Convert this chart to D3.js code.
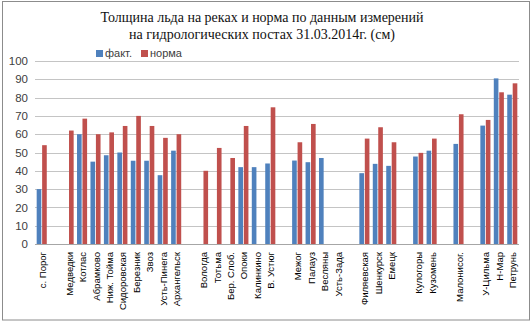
<!DOCTYPE html>
<html>
<head>
<meta charset="utf-8">
<script src="https://cdn.jsdelivr.net/npm/d3@7"></script>
<style>
  html, body { margin: 0; padding: 0; background: #fff; }
  svg { display: block; }
</style>
</head>
<body>
<svg id="chart" width="532" height="322"></svg>
<script>
const titleLines = ["Толщина льда на реках и норма по данным измерений", "на гидрологических постах 31.03.2014г. (см)"];
const categories = ["с. Порог", "", "Медведки", "Котлас", "Абрамково", "Ниж. Тойма", "Сидоровская", "Березник", "Звоз", "Усть-Пинега", "Архангельск", "", "Вологда", "Тотьма", "Бер. Слоб.", "Опоки", "Калинкино", "В. Устюг", "", "Межог", "Палауз", "Весляны", "Усть-Зада", "", "Филяевская", "Шенкурск", "Емецк", "", "Кулогоры", "Кузомень", "", "Малонисог.", "", "У-Цильма", "Н-Мар", "Петрунь"];
const fact = [30, null, null, 60, 45, 48.5, 50, 45.5, 45.5, 37.6, 51, null, null, null, null, 42, 42, 44, null, 45.6, 44.7, 47, null, null, 38.7, 43.8, 42.7, null, 47.8, 51, null, 54.7, null, 64.7, 90.5, 81.6];
const norma = [54, null, 62, 68.5, 60, 61, 64.5, 70, 64.5, 58, 60, null, 40, 52.5, 47, 64.5, null, 74.7, null, 55.6, 65.6, null, null, null, 57.6, 63.8, 55.6, null, 49.8, 57.6, null, 70.9, null, 67.8, 82.9, 87.8];
const seriesNames = ["факт.", "норма"];
const yTicks = [0, 10, 20, 30, 40, 50, 60, 70, 80, 90, 100];

const colors = ["#4F81BD", "#C0504D"];
const svg = d3.select("#chart");
const plot = { left: 35, right: 519, top: 61, bottom: 244 };

// outer border
svg.append("rect").attr("x", 2.5).attr("y", 1.5).attr("width", 527).attr("height", 318.5)
  .attr("fill", "#fff").attr("stroke", "#8c8c8c").attr("stroke-width", 1);

// title
svg.append("g").selectAll("text").data(titleLines).join("text")
  .attr("x", 262).attr("y", (d, i) => 22 + i * 17)
  .attr("text-anchor", "middle")
  .attr("font-family", "'Liberation Serif', 'Times New Roman', serif")
  .attr("font-size", 14).attr("fill", "#111")
  .text(d => d);

const idx = categories.map((d, i) => i);
const x0 = d3.scaleBand().domain(idx).range([plot.left, plot.right]).paddingInner(0.25).paddingOuter(0.125);
const x1 = d3.scaleBand().domain([0, 1]).range([0, x0.bandwidth()]).paddingInner(0.15);
const y = d3.scaleLinear().domain([0, 100]).range([plot.bottom, plot.top]);

// gridlines
svg.append("g").selectAll("line").data(yTicks).join("line")
  .attr("x1", plot.left).attr("x2", plot.right)
  .attr("y1", d => Math.round(y(d)) + 0.5).attr("y2", d => Math.round(y(d)) + 0.5)
  .attr("stroke", d => d === 0 ? "#a6a6a6" : "#c4c4c4").attr("stroke-width", 1);

// y axis labels
const yAxis = d3.axisLeft(y).tickValues(yTicks).tickSize(0).tickPadding(0);
const gy = svg.append("g").attr("transform", `translate(${plot.left - 7},0)`).call(yAxis);
gy.select(".domain").remove();
gy.selectAll("text").attr("font-family", "'Liberation Sans', Arial, sans-serif").attr("font-size", 11.5).attr("fill", "#404040");

// bars
const series = [fact, norma];
series.forEach((vals, s) => {
  svg.append("g").selectAll("rect").data(vals.map((v, i) => ({ v, i })).filter(d => d.v != null)).join("rect")
    .attr("x", d => x0(d.i) + x1(s))
    .attr("width", x1.bandwidth())
    .attr("y", d => y(d.v))
    .attr("height", d => y(0) - y(d.v))
    .attr("fill", colors[s]);
});

// x axis labels
const xAxis = d3.axisBottom(x0).tickSize(0).tickPadding(0).tickFormat(i => categories[i]);
const gx = svg.append("g").attr("transform", `translate(1,${plot.bottom})`).call(xAxis);
gx.select(".domain").remove();
gx.selectAll("text")
  .attr("font-family", "'Liberation Sans', Arial, sans-serif").attr("font-size", 9.5).attr("fill", "#000")
  .attr("transform", "translate(0,8) rotate(-90)")
  .attr("text-anchor", "end").attr("dy", "0.32em").attr("x", 0).attr("y", 0);

// legend
const legend = svg.append("g").attr("transform", "translate(96,50)");
const items = legend.selectAll("g").data(seriesNames).join("g")
  .attr("transform", (d, i) => `translate(${i * 45},0)`);
items.append("rect").attr("width", 7).attr("height", 7).attr("fill", (d, i) => colors[i]);
items.append("text").attr("x", 9).attr("y", 7)
  .attr("font-family", "'Liberation Sans', Arial, sans-serif").attr("font-size", 11).attr("fill", "#404040")
  .text(d => d);
</script>
</body>
</html>
